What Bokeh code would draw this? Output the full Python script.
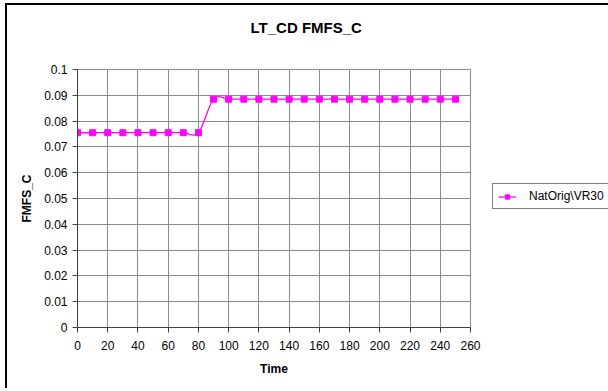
from bokeh.plotting import figure
from bokeh.models import (FixedTicker, Legend, LegendItem, Title, ColumnDataSource, Range1d)
from bokeh.embed import file_html
from bokeh.resources import INLINE

# ---- data ----
title_text = "LT_CD FMFS_C"
x_label = "Time"
y_label = "FMFS_C"
series_name = "NatOrig\\VR30"
time = [0, 10, 20, 30, 40, 50, 60, 70, 80, 90, 100, 110, 120, 130, 140, 150,
        160, 170, 180, 190, 200, 210, 220, 230, 240, 250]
fmfs_c = [0.0755, 0.0755, 0.0755, 0.0755, 0.0755, 0.0755, 0.0755, 0.0755, 0.0755,
          0.0885, 0.0885, 0.0885, 0.0885, 0.0885, 0.0885, 0.0885, 0.0885, 0.0885,
          0.0885, 0.0885, 0.0885, 0.0885, 0.0885, 0.0885, 0.0885, 0.0885]
x_ticks = [0, 20, 40, 60, 80, 100, 120, 140, 160, 180, 200, 220, 240, 260]
y_ticks = [0, 0.01, 0.02, 0.03, 0.04, 0.05, 0.06, 0.07, 0.08, 0.09, 0.1]
y_tick_labels = ["0", "0.01", "0.02", "0.03", "0.04", "0.05", "0.06", "0.07",
                 "0.08", "0.09", "0.1"]

FONT = "Liberation Sans"
MAGENTA = "#FF00FF"
GRID = "#8c8c8c"

p = figure(width=608, height=391, output_backend="svg", toolbar_location=None,
           x_range=Range1d(0, 260), y_range=Range1d(0, 0.1),
           title_location=None,
           min_border_left=77, min_border_right=138, min_border_top=69,
           min_border_bottom=64)
p.frame_width = 393
p.frame_height = 258
p.background_fill_color = "white"
p.border_fill_color = "white"
p.border_fill_alpha = 0
p.outline_line_color = GRID
p.styles = {"background-color": "white",
            "box-shadow": "inset 5px 3px 0 0 #fff, inset 7px 5px 0 0 #000",
            "clip-path": "inset(0px 3px 3px 0px)"}

# title: an empty spacer next to the frame, then the chart title above it
p.add_layout(Title(text=" ", text_font_size="1px", standoff=26), "above")
p.add_layout(Title(text=title_text, align="left", offset=173, standoff=10,
                   text_font=FONT, text_font_size="15px", text_font_style="bold",
                   text_color="black"), "above")

# axes
p.xaxis.ticker = FixedTicker(ticks=x_ticks)
p.yaxis.ticker = FixedTicker(ticks=y_ticks)
p.yaxis.major_label_overrides = {t: l for t, l in zip(y_ticks, y_tick_labels)}
for ax in (p.xaxis[0], p.yaxis[0]):
    ax.axis_line_color = "#404040"
    ax.major_tick_line_color = "#404040"
    ax.major_tick_in = 0
    ax.major_tick_out = 5
    ax.minor_tick_line_color = None
    ax.major_label_text_font = FONT
    ax.major_label_text_font_size = "12px"
    ax.major_label_text_color = "black"
    ax.axis_label_text_font = FONT
    ax.axis_label_text_font_size = "12px"
    ax.axis_label_text_font_style = "bold"
    ax.axis_label_text_color = "black"
p.xaxis.axis_label = x_label
p.yaxis.axis_label = y_label
p.xaxis.major_label_standoff = 8
p.yaxis.major_label_standoff = 5
p.xaxis.axis_label_standoff = 9
p.yaxis.axis_label_standoff = 7

p.xgrid.ticker = FixedTicker(ticks=x_ticks)
p.ygrid.ticker = FixedTicker(ticks=y_ticks)
p.grid.grid_line_color = GRID
p.grid.grid_line_width = 1

# smoothed line (cubic Bezier through the data points, Excel-style)
n = len(time)
x0, y0, x1, y1, cx0, cy0, cx1, cy1 = [], [], [], [], [], [], [], []
for i in range(n - 1):
    ip = max(i - 1, 0)
    inn = min(i + 2, n - 1)
    x0.append(time[i]); y0.append(fmfs_c[i])
    x1.append(time[i + 1]); y1.append(fmfs_c[i + 1])
    cx0.append(time[i] + (time[i + 1] - time[ip]) / 6)
    cy0.append(fmfs_c[i] + (fmfs_c[i + 1] - fmfs_c[ip]) / 6)
    cx1.append(time[i + 1] - (time[inn] - time[i]) / 6)
    cy1.append(fmfs_c[i + 1] - (fmfs_c[inn] - fmfs_c[i]) / 6)
bez_src = ColumnDataSource(dict(x0=x0, y0=y0, x1=x1, y1=y1,
                                cx0=cx0, cy0=cy0, cx1=cx1, cy1=cy1))
p.bezier(x0="x0", y0="y0", x1="x1", y1="y1", cx0="cx0", cy0="cy0",
         cx1="cx1", cy1="cy1", source=bez_src, line_color=MAGENTA, line_width=1.3)

# first (flat) segment as a line renderer, so the legend shows a line glyph
seg = p.line(time[:2], fmfs_c[:2], line_color=MAGENTA, line_width=1.3)

pts = ColumnDataSource(dict(t=time, v=fmfs_c))
marks = p.scatter("t", "v", source=pts, marker="square", size=6,
                  fill_color=MAGENTA, line_color=MAGENTA)

legend = Legend(items=[LegendItem(label=series_name, renderers=[seg, marks])],
                location=(22, 118), orientation="vertical")
legend.border_line_color = "black"
legend.border_line_width = 1
legend.background_fill_color = "white"
legend.background_fill_alpha = 1
legend.padding = 5
legend.margin = 0
legend.spacing = 0
legend.glyph_width = 18
legend.glyph_height = 11
legend.label_height = 11
legend.label_standoff = 13
legend.label_text_font = FONT
legend.label_text_font_size = "12px"
legend.label_text_color = "black"
p.add_layout(legend, "right")

open("out.html", "w").write(file_html(p, INLINE))
